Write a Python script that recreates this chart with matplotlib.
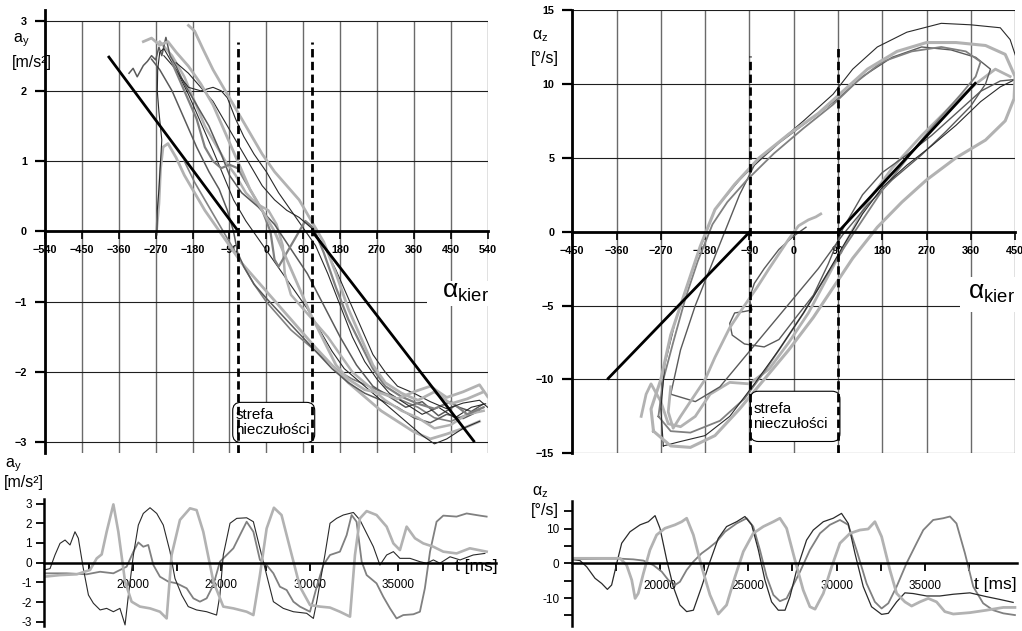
import numpy as np
import matplotlib
matplotlib.use("Agg")
import matplotlib.pyplot as plt
from matplotlib.patches import FancyBboxPatch, Rectangle

plt.rcParams["font.family"] = ["Liberation Sans", "DejaVu Sans"]

# ── top-left: lateral acceleration vs steering angle ───────────────────────
AY_X_TICKS = list(range(-540, 541, 90))
AY_Y_TICKS = [-3, -2, -1, 0, 1, 2, 3]
AY_DEADZONE = [-68, 112]
AY_REF_1 = [(-384, 2.48), (-68, 0.0)]
AY_REF_2 = [(112, 0.0), (506, -2.98)]

AY_C1 = [(-335, 2.25), (-325, 2.32), (-315, 2.2), (-300, 2.36), (-290, 2.42), (-280, 2.5),
         (-270, 2.44), (-262, 2.62), (-255, 2.5), (-245, 2.76), (-235, 2.5), (-220, 2.35),
         (-200, 2.1), (-170, 1.8), (-140, 1.5), (-110, 1.1), (-90, 0.8), (-60, 0.55),
         (-20, 0.35), (20, 0.1), (60, -0.25), (100, -0.6), (140, -1.05), (180, -1.5),
         (220, -1.9), (260, -2.2), (300, -2.35), (340, -2.5), (380, -2.42), (420, -2.62),
         (460, -2.48), (500, -2.56), (530, -2.45)]
AY_C2 = [(-267, -0.05), (-266, 0.3), (-262, 0.6), (-258, 1.0), (-255, 1.3), (-262, 1.7),
         (-266, 2.0), (-265, 2.3), (-260, 2.55), (-250, 2.6), (-230, 2.4), (-210, 2.2),
         (-190, 2.05), (-160, 2.0), (-130, 2.05), (-110, 2.0), (-95, 1.9), (-75, 1.6),
         (-55, 1.35), (-30, 1.1), (0, 0.85), (30, 0.55), (60, 0.3), (90, 0.05),
         (120, -0.2), (150, -0.6), (180, -1.05), (210, -1.5), (240, -1.85), (270, -2.1),
         (300, -2.3), (340, -2.45), (380, -2.6), (420, -2.5), (460, -2.65), (500, -2.5),
         (535, -2.45)]
AY_C3 = [(-268, 0.0), (-262, 0.4), (-258, 0.9), (-252, 1.2), (-240, 1.25), (-220, 1.05),
         (-200, 0.8), (-175, 0.55), (-150, 0.3), (-120, 0.05), (-90, -0.2), (-60, -0.45),
         (-30, -0.65), (0, -0.85), (30, -1.05), (60, -1.25), (90, -1.45), (120, -1.65),
         (160, -1.9), (200, -2.15), (240, -2.35), (280, -2.55), (320, -2.7), (360, -2.85),
         (400, -2.95), (440, -2.88), (480, -2.8), (520, -2.7)]
AY_C4 = [(-300, 2.7), (-280, 2.75), (-260, 2.65), (-240, 2.7), (-220, 2.55), (-190, 2.35),
         (-160, 2.1), (-130, 1.8), (-100, 1.4), (-70, 1.0), (-40, 0.6), (-10, 0.3),
         (20, 0.0), (50, -0.4), (80, -0.8), (110, -1.2), (140, -1.55), (170, -1.9),
         (200, -2.1), (240, -2.25), (280, -2.3), (320, -2.38), (360, -2.28), (400, -2.2),
         (440, -2.36), (480, -2.28), (520, -2.18), (540, -2.35)]
AY_C5 = [(-190, 2.93), (-175, 2.85), (-155, 2.6), (-130, 2.3), (-100, 2.0), (-70, 1.7),
         (-40, 1.4), (-10, 1.1), (20, 0.85), (50, 0.65), (80, 0.45), (110, 0.15),
         (140, -0.15), (170, -0.6), (200, -1.1), (230, -1.5), (260, -1.9), (290, -2.15),
         (330, -2.3), (370, -2.4), (410, -2.28), (450, -2.45), (490, -2.38), (530, -2.28)]
AY_C6 = [(-280, 2.45), (-260, 2.3), (-230, 2.0), (-200, 1.6), (-170, 1.2), (-140, 0.85),
         (-115, 0.6), (-95, 0.3), (-80, 0.0), (-70, -0.3), (-55, -0.5), (-30, -0.75),
         (0, -0.95), (40, -1.2), (80, -1.45), (120, -1.7), (160, -1.95), (200, -2.15),
         (240, -2.3), (280, -2.4), (320, -2.5), (360, -2.65), (400, -2.72), (440, -2.6),
         (480, -2.66), (520, -2.55)]
AY_C7 = [(-250, 2.5), (-220, 2.3), (-190, 1.95), (-160, 1.55), (-130, 1.15), (-105, 0.8),
         (-80, 0.45), (-50, 0.15), (-20, -0.1), (10, -0.35), (40, -0.6), (70, -0.85),
         (100, -1.1), (130, -1.4), (160, -1.7), (190, -1.95), (220, -2.1), (260, -2.3),
         (300, -2.5), (340, -2.7), (380, -2.9), (410, -3.02), (440, -2.95), (480, -2.8),
         (520, -2.7)]
AY_C8 = [(-230, 2.4), (-200, 2.0), (-170, 1.6), (-150, 1.2), (-130, 1.0), (-110, 0.9),
         (-90, 0.95), (-70, 0.9), (-50, 0.7), (-30, 0.5), (-10, 0.3), (10, 0.0),
         (20, -0.4), (30, -0.5), (50, -0.3), (70, -0.1), (95, 0.15), (115, 0.05),
         (140, -0.3), (170, -0.8), (200, -1.25), (230, -1.6), (260, -1.95), (290, -2.2),
         (330, -2.35), (370, -2.45), (410, -2.52), (450, -2.42), (490, -2.6), (530, -2.5)]
AY_C9 = [(-260, 2.7), (-230, 2.5), (-200, 2.2), (-175, 1.85), (-150, 1.5), (-125, 1.25),
         (-100, 1.0), (-75, 0.8), (-50, 0.55), (-25, 0.4), (5, 0.3), (25, 0.1),
         (40, -0.2), (45, -0.6), (60, -0.9), (90, -1.1), (120, -1.3), (150, -1.5),
         (180, -1.75), (210, -2.0), (250, -2.2), (290, -2.4), (330, -2.55), (370, -2.65),
         (410, -2.8), (450, -2.75), (490, -2.6), (530, -2.55)]
AY_C10 = [(-220, 2.4), (-190, 2.25), (-160, 2.05), (-130, 1.85), (-100, 1.55), (-70, 1.25),
          (-40, 0.95), (-10, 0.65), (20, 0.45), (50, 0.3), (80, 0.2), (110, 0.05),
          (140, -0.2), (170, -0.55), (200, -0.95), (230, -1.35), (260, -1.75), (290, -2.0),
          (320, -2.2), (360, -2.3), (400, -2.42), (440, -2.52), (480, -2.44), (520, -2.4),
          (540, -2.5)]
AY_C11 = [(-200, 1.0), (-175, 0.7), (-150, 0.45), (-125, 0.2), (-100, -0.05), (-80, -0.25),
          (-60, -0.45), (-30, -0.75), (0, -1.0), (30, -1.2), (60, -1.4), (90, -1.55),
          (120, -1.7), (150, -1.85), (180, -2.0), (210, -2.1), (250, -2.2), (290, -2.3),
          (330, -2.4), (370, -2.5), (410, -2.65), (450, -2.7), (490, -2.6), (530, -2.5)]

# ── top-right: yaw rate vs steering angle ──────────────────────────────────
AZ_X_TICKS = list(range(-450, 451, 90))
AZ_Y_TICKS = [-15, -10, -5, 0, 5, 10, 15]
AZ_DEADZONE = [-89, 91]
AZ_REF_1 = [(-377, -9.93), (-89, 0.0)]
AZ_REF_2 = [(91, 0.0), (369, 10.04)]

AZ_L1 = [(-265, -14.5), (-270, -12), (-262, -9), (-240, -6), (-200, -2), (-160, 1.5),
         (-110, 3.5), (-50, 5.5), (20, 7.5), (80, 9.3), (120, 11), (170, 12.5), (230, 13.5),
         (300, 14.1), (360, 14.0), (420, 13.8), (440, 13.0), (455, 11.5), (450, 10.3),
         (420, 9.8), (380, 8.8), (330, 7.2), (280, 5.8), (230, 4.5), (180, 3.0), (140, 1.2),
         (100, -1.0), (60, -3.3), (20, -5.5), (-30, -8.0), (-80, -10.3), (-130, -12.5),
         (-180, -13.8), (-230, -14.2), (-265, -14.5)]
AZ_L2 = [(-285, -13.5), (-290, -12), (-270, -10), (-250, -7), (-220, -4), (-190, -1),
         (-160, 1.5), (-120, 3.2), (-70, 5.0), (-10, 6.6), (50, 8.0), (100, 9.5), (150, 11),
         (210, 12.2), (270, 12.8), (330, 12.8), (390, 12.6), (430, 12.0), (450, 10.5),
         (448, 9.0), (430, 7.5), (390, 6.2), (330, 5.0), (270, 3.5), (220, 2.0), (170, 0.3),
         (120, -1.8), (80, -3.8), (40, -5.8), (-10, -8.0), (-60, -10.0), (-110, -12.0),
         (-160, -13.8), (-210, -14.6), (-250, -14.5), (-285, -13.5)]
AZ_L3 = [(-275, -12.5), (-265, -10), (-245, -7.5), (-220, -4.5), (-195, -2), (-165, 0.5),
         (-135, 2), (-95, 3.5), (-40, 5.3), (20, 7.0), (80, 8.6), (130, 10.2), (180, 11.5),
         (240, 12.2), (300, 12.5), (350, 12.2), (380, 11.5), (370, 10.5), (340, 9.3),
         (300, 7.8), (260, 6.2), (220, 4.5), (180, 2.8), (140, 0.8), (100, -1.2), (60, -3.3),
         (20, -5.5), (-20, -7.5), (-60, -9.5), (-100, -11.3), (-150, -12.8), (-210, -13.6),
         (-250, -13.5), (-275, -12.5)]
AZ_L4 = [(-310, -12.5), (-300, -11), (-290, -10.3), (-270, -11.5), (-255, -13.0),
         (-230, -13.2), (-200, -12.5), (-170, -11.0), (-130, -10.2), (-90, -10.3),
         (-50, -9.3), (-10, -7.5), (30, -5.5), (70, -3.0), (110, -0.5), (150, 2.0),
         (200, 4.3), (260, 6.5), (320, 8.5), (370, 10.0), (410, 11.0), (440, 10.5)]
AZ_L5 = [(25, 0.3), (0, -0.3), (-30, -1.2), (-60, -2.5), (-80, -3.5), (-90, -4.5),
         (-85, -5.3), (-100, -5.4), (-120, -5.5), (-130, -6.2), (-125, -7.0), (-100, -7.6),
         (-60, -7.8), (-30, -7.3), (0, -6.0), (40, -4.3), (70, -2.2), (100, 0.2), (140, 2.5),
         (180, 4.0), (230, 5.2), (280, 6.5), (330, 8.0), (380, 9.5), (420, 10.2), (450, 10.3)]
AZ_L6 = [(55, 1.2), (45, 1.0), (30, 0.8), (10, 0.4), (-10, -0.5), (-30, -1.5), (-50, -2.5),
         (-75, -3.8), (-100, -5.0), (-130, -6.5), (-160, -8.5), (-180, -10.0), (-200, -11.0),
         (-230, -12.5), (-245, -13.3), (-255, -12.2), (-250, -10.5)]
AZ_L7 = [(-250, -11), (-230, -8), (-200, -5), (-170, -2.5), (-140, 0), (-110, 2.5),
         (-80, 4.5), (-30, 6.0), (30, 7.5), (90, 9.0), (140, 10.5), (200, 11.8), (260, 12.5),
         (320, 12.3), (370, 11.8), (400, 11.0), (390, 10.0), (360, 8.5), (310, 6.8),
         (260, 5.2), (200, 3.5), (150, 1.8), (100, -0.2), (50, -2.5), (0, -4.5), (-50, -6.5),
         (-100, -8.5), (-150, -10.5), (-200, -11.5), (-250, -11)]

# ── bottom-left: a_y time histories ────────────────────────────────────────
AY_DARK_T = [15000, 15320, 15600, 15885, 16170, 16450, 16730, 16920, 17200, 17490, 17770,
             18150, 18520, 18900, 19270, 19560, 19750, 20030, 20310, 20590, 20970, 21350,
             21720, 22100, 22380, 22760, 23130, 23600, 24170, 24730, 24920, 25110, 25490,
             25870, 26430, 26810, 27180, 27560, 27940, 28500, 29070, 29820, 30200, 30390,
             30850, 31140, 31510, 31890, 32460, 32830, 33210, 33590, 33960, 34340, 34720,
             35090, 35660, 36220, 36600, 36980, 37350, 37920, 38490, 39230, 39890]
AY_DARK_V = [-0.37, -0.3, 0.39, 0.98, 1.15, 0.9, 1.57, 1.24, -0.29, -1.64, -2.06, -2.4, -2.32,
             -2.49, -2.32, -3.16, -1.64, 0.39, 1.91, 2.5, 2.79, 2.5, 1.91, 0.56, -0.8, -1.64,
             -2.23, -2.4, -2.49, -2.66, -1.64, 0.39, 2.0, 2.25, 2.28, 2.08, 0.73, -0.63, -1.98,
             -2.32, -2.49, -2.57, -2.83, -1.98, 0.39, 2.0, 2.25, 2.42, 2.55, 2.17, 1.49, 0.81,
             -0.12, 0.39, 0.56, 0.22, 0.22, 0.05, -0.03, 0.14, -0.03, 0.3, 0.14, 0.39, 0.47]
AY_MID_T = [15000, 16260, 17390, 18150, 18900, 19650, 20030, 20310, 20590, 20870, 21160,
            21530, 22000, 22480, 23040, 23420, 23790, 24170, 24550, 24920, 25300, 25680,
            26050, 26430, 26810, 27180, 27560, 27940, 28310, 28690, 29070, 29440, 30010,
            30390, 30760, 31140, 31700, 32080, 32360, 32640, 32930, 33210, 33770, 34150,
            34530, 34900, 35280, 35850, 36220, 36500, 36790, 37160, 37540, 38290, 38860,
            39610, 39990]
AY_MID_V = [-0.54, -0.54, -0.59, -0.46, -0.54, -0.2, 0.56, 1.03, 0.81, 0.9, -0.12, -0.71,
            -0.96, -1.05, -1.3, -1.81, -1.98, -1.81, -1.13, 0.05, 0.39, 0.73, 1.4, 2.08, 1.57,
            0.14, -0.12, -0.54, -1.22, -1.39, -1.98, -2.23, -2.49, -1.22, -0.12, 0.39, 0.56,
            1.4, 2.42, 2.08, 0.05, -0.63, -1.05, -1.73, -2.32, -2.83, -2.66, -2.62, -2.49,
            -1.3, 0.56, 2.08, 2.39, 2.34, 2.5, 2.39, 2.34]
AY_LIGHT_T = [15000, 15885, 16830, 17580, 17960, 18240, 18520, 18900, 19180, 19560, 19930,
              20400, 20970, 21530, 21910, 22190, 22660, 23230, 23600, 23980, 24550, 25110,
              25680, 26430, 26810, 27180, 27560, 27970, 28400, 28880, 29440, 30010, 30570,
              31140, 31700, 32270, 32550, 32830, 33210, 33770, 34340, 34720, 35090, 35470,
              35940, 36410, 36980, 37540, 38290, 39040, 39990]
AY_LIGHT_V = [-0.71, -0.63, -0.59, -0.37, 0.22, 0.42, 1.57, 2.96, 1.57, -0.96, -1.98, -2.23,
              -2.32, -2.49, -2.83, 0.39, 2.17, 2.76, 2.67, 1.57, -0.96, -2.23, -2.32, -2.49,
              -2.66, -0.63, 1.74, 2.79, 2.42, 0.73, -1.22, -2.15, -2.23, -2.28, -2.49, -2.74,
              0.39, 2.25, 2.62, 2.42, 1.83, 0.98, 0.64, 1.83, 1.24, 0.98, 0.81, 0.56, 0.47,
              0.73, 0.56]

# ── bottom-right: yaw rate time histories ──────────────────────────────────
AZ_DARK_T = [15000, 15470, 15850, 16320, 16700, 17020, 17260, 17550, 17830, 18300, 18870,
             19340, 19720, 20000, 20380, 20750, 21130, 21510, 21890, 22360, 22830, 23300,
             23770, 24340, 24810, 25190, 25570, 25940, 26320, 26700, 27080, 27360, 27740,
             28300, 28680, 29250, 29810, 30280, 30660, 31040, 31510, 31980, 32550, 32930,
             33400, 33870, 34340, 35100, 35850, 36610, 37550, 38490, 39250, 40000]
AZ_DARK_V = [1.15, 0.8, -1.0, -4.3, -5.8, -7.5, -6.25, 0.0, 5.8, 9.1, 11.1, 12.0, 13.75, 10.1,
             1.0, -6.7, -12.0, -13.9, -13.5, -6.7, 0.5, 7.2, 10.6, 12.0, 13.5, 11.1, 3.85,
             -4.8, -11.1, -13.5, -13.5, -9.6, -1.9, 6.7, 9.6, 12.0, 13.0, 14.4, 11.5, 2.9,
             -6.7, -12.5, -14.7, -14.4, -11.1, -8.5, -8.7, -9.4, -9.4, -8.9, -8.5, -9.6,
             -10.4, -11.25]
AZ_MID_T = [15000, 16790, 17740, 18490, 19060, 19620, 20100, 20470, 20850, 21130, 21510,
            21890, 22360, 22740, 23210, 23680, 24340, 24910, 25280, 25660, 26040, 26420,
            26790, 27170, 27550, 27930, 28490, 29060, 29620, 30190, 30660, 31130, 31700,
            32170, 32550, 32930, 33400, 33960, 34530, 34910, 35470, 36040, 36420, 36790,
            37270, 37740, 38300, 38870, 39440, 40100]
AZ_MID_V = [1.15, 1.35, 1.35, 1.15, 0.8, -0.5, -2.4, -4.8, -6.25, -5.3, -1.9, 0.5, 2.9, 4.3,
            6.25, 9.1, 11.5, 13.0, 10.6, 3.85, -3.85, -9.1, -10.9, -10.1, -6.25, -2.4, 3.85,
            8.65, 11.1, 12.5, 11.1, 3.85, -5.8, -11.1, -13.0, -11.5, -6.7, 0.0, 5.8, 9.6,
            12.5, 13.0, 13.5, 11.5, 2.9, -6.7, -11.5, -13.5, -14.4, -14.9]
AZ_LIGHT_T = [15000, 16790, 17740, 18110, 18400, 18590, 18770, 19060, 19430, 19810, 20280,
              20850, 21230, 21510, 21890, 22360, 22830, 23300, 23770, 24250, 24720, 25280,
              25850, 26420, 26790, 27170, 27640, 28110, 28490, 28780, 29250, 29720, 30190,
              30760, 31320, 31790, 32170, 32550, 33020, 33400, 33870, 34250, 34720, 35190,
              35660, 36130, 36610, 37550, 38490, 39440, 40100]
AZ_LIGHT_V = [1.45, 1.45, 1.45, -0.5, -4.8, -10.1, -8.65, -2.9, 3.85, 8.2, 10.1, 11.1, 12.0,
              13.0, 8.2, -1.0, -9.1, -14.6, -12.0, -3.85, 3.4, 8.65, 10.6, 12.0, 13.0, 10.1,
              1.0, -7.7, -12.5, -13.2, -8.65, -1.0, 5.8, 8.65, 9.6, 9.9, 12.0, 7.7, -1.9, -8.65,
              -11.1, -12.3, -11.1, -10.1, -11.1, -13.9, -14.6, -14.2, -13.5, -12.7, -12.7]

T_MAJOR = [20000, 25000, 30000, 35000]
T_MINOR = [17500, 22500, 27500, 32500, 37500]

DARK = "#2a2a2a"
DGRAY = "#5a5a5a"
MGRAY = "#808080"
LGRAY = "#b2b2b2"


def xy(points):
    a = np.array(points, dtype=float)
    return a[:, 0], a[:, 1]


def loop_panel(ax, xt, yt, ylo, curves, refs, dz, dz_top, box_xy, box_wh, box_text,
               round_x, aspect):
    ax.vlines(xt, ylo, yt[-1], color="#6a6a6a", lw=1.0, zorder=0.5)
    ax.hlines(yt, xt[0], xt[-1], color="#1e1e1e", lw=0.8, zorder=0.5)
    for pts, col, lw in curves:
        x, y = xy(pts)
        ax.plot(x, y, color=col, lw=lw, zorder=2, solid_joinstyle="round")
    for r in refs:
        x, y = xy(r)
        ax.plot(x, y, color="black", lw=2.0, zorder=3)
    for (d, top) in zip(dz, dz_top):
        ax.plot([d, d], [ylo, top], color="black", lw=2.0, ls=(0, (3, 1.6)), zorder=4)
    box = FancyBboxPatch(box_xy, box_wh[0], box_wh[1],
                         boxstyle="round,pad=0,rounding_size=%g" % round_x,
                         mutation_aspect=aspect, fc="white", ec="black",
                         lw=0.8, zorder=3.5)
    ax.add_patch(box)
    t = ax.text(box_xy[0] + box_wh[0] * 0.03, box_xy[1] + box_wh[1] * 0.5, box_text,
                ha="left", va="center", fontsize=11, linespacing=1.1, zorder=3.6)
    t.set_clip_path(box)

    for side in ("top", "right"):
        ax.spines[side].set_visible(False)
    ax.spines["bottom"].set_position(("data", 0))
    ax.spines["bottom"].set_linewidth(2.0)
    ax.spines["left"].set_linewidth(2.0)
    ax.set_xticks(xt)
    ax.set_yticks(yt)
    ax.tick_params(axis="x", direction="out", length=6, width=1.2, pad=4, labelsize=7.8)
    ax.tick_params(axis="y", direction="out", length=7, width=1.6, pad=6, labelsize=7.8)
    for lab in ax.get_xticklabels() + ax.get_yticklabels():
        lab.set_fontweight("bold")
    ax.set_facecolor("none")


fig = plt.figure(figsize=(10.22, 6.31), dpi=100)

# top-left
ax1 = fig.add_axes([0.0440, 0.2821, 0.4332, 0.7021])
ax1.set_xlim(-540, 540)
ax1.set_ylim(-3.15, 3.15)
ay_curves = [
    (AY_C11, MGRAY, 1.2), (AY_C3, LGRAY, 2.0), (AY_C6, DGRAY, 1.1), (AY_C7, DARK, 0.8),
    (AY_C9, LGRAY, 1.8), (AY_C1, DGRAY, 1.1), (AY_C2, DARK, 0.8), (AY_C8, MGRAY, 1.6),
    (AY_C10, DARK, 0.8), (AY_C4, LGRAY, 2.0), (AY_C5, LGRAY, 2.0),
]
loop_panel(ax1, AY_X_TICKS, AY_Y_TICKS, -3.15, ay_curves, [AY_REF_1, AY_REF_2],
           AY_DEADZONE, [2.7, 2.7], (-82, -3.0), (200, 0.57), "strefa\nnieczułości",
           20, 0.0058)
ax1.add_patch(Rectangle((393, -1.06), 160, 0.36, fc="white", ec="none", zorder=3.7, clip_on=False))
ax1.text(428, -0.86, "α$_\\mathregular{kier}$", fontsize=19, ha="left", va="center", zorder=3.8)
fig.text(13 / 1022, 1 - 40 / 631, "a$_\\mathregular{y}$", fontsize=11.5, ha="left", va="center")
fig.text(12 / 1022, 1 - 63 / 631, "[m/s²]", fontsize=11.5, ha="left", va="center")

# top-right
ax2 = fig.add_axes([0.5600, 0.2816, 0.4332, 0.7025])
ax2.set_xlim(-450, 450)
ax2.set_ylim(-15, 15)
az_curves = [
    (AZ_L4, LGRAY, 2.0), (AZ_L7, DGRAY, 1.0), (AZ_L3, MGRAY, 1.3), (AZ_L5, DGRAY, 1.0),
    (AZ_L6, LGRAY, 2.0), (AZ_L1, DARK, 0.8), (AZ_L2, LGRAY, 2.2),
]
loop_panel(ax2, AZ_X_TICKS, AZ_Y_TICKS, -15, az_curves, [AZ_REF_1, AZ_REF_2],
           AZ_DEADZONE, [11.9, 12.4], (-88, -14.2), (182, 3.4), "strefa\nnieczułości",
           16, 0.0333)
ax2.add_patch(Rectangle((338, -5.43), 140, 2.36, fc="white", ec="none", zorder=3.7, clip_on=False))
ax2.text(354, -4.15, "α$_\\mathregular{kier}$", fontsize=19, ha="left", va="center", zorder=3.8)
fig.text(532 / 1022, 1 - 36 / 631, "α$_\\mathregular{z}$", fontsize=11.5, ha="left", va="center")
fig.text(531 / 1022, 1 - 58 / 631, "[°/s]", fontsize=11.5, ha="left", va="center")


def time_panel(ax, series, yticks, ylabels, yminor, xmax, tlab_y):
    for t, v, col, lw in series:
        ax.plot(t, v, color=col, lw=lw, zorder=2)
    for side in ("top", "right"):
        ax.spines[side].set_visible(False)
    ax.spines["bottom"].set_position(("data", 0))
    ax.spines["bottom"].set_linewidth(1.8)
    ax.spines["left"].set_linewidth(1.8)
    ax.set_xticks(T_MAJOR)
    ax.set_xticks(T_MINOR, minor=True)
    ax.set_yticks(yticks)
    ax.set_yticklabels(ylabels)
    if yminor:
        ax.set_yticks(yminor, minor=True)
    ax.tick_params(axis="x", which="both", direction="out", length=6, width=1.3, pad=6,
                   labelsize=8.5)
    ax.tick_params(axis="y", which="both", direction="out", length=6, width=1.3, pad=3,
                   labelsize=8.5)
    for lab in ax.get_xticklabels():
        lab.set_zorder(1)
    ax.text(xmax, tlab_y, "t [ms]", fontsize=12.5, ha="right", va="center")
    ax.set_facecolor("none")


ax3 = fig.add_axes([0.0434, 0.0084, 0.4416, 0.2013])
ax3.set_xlim(15000, 40500)
ax3.set_ylim(-3.2, 3.25)
time_panel(ax3, [(AY_MID_T, AY_MID_V, MGRAY, 1.3), (AY_DARK_T, AY_DARK_V, DARK, 0.8),
                 (AY_LIGHT_T, AY_LIGHT_V, LGRAY, 1.9)],
           AY_Y_TICKS, [str(v) for v in AY_Y_TICKS], None, 40600, -0.2)
fig.text(5 / 1022, 1 - 465 / 631, "a$_\\mathregular{y}$", fontsize=11.5, ha="left", va="center")
fig.text(4 / 1022, 1 - 482 / 631, "[m/s²]", fontsize=11.5, ha="left", va="center")

ax4 = fig.add_axes([0.5594, 0.0082, 0.4354, 0.198])
ax4.set_xlim(15000, 40200)
ax4.set_ylim(-18, 18)
time_panel(ax4, [(AZ_MID_T, AZ_MID_V, MGRAY, 1.3), (AZ_DARK_T, AZ_DARK_V, DARK, 0.9),
                 (AZ_LIGHT_T, AZ_LIGHT_V, LGRAY, 2.0)],
           [-10, 0, 10], ["-10", "0", "10"], [-15, -5, 5, 15], 40200, -6.0)
fig.text(532 / 1022, 1 - 492 / 631, "α$_\\mathregular{z}$", fontsize=11.5, ha="left", va="center")
fig.text(531 / 1022, 1 - 510 / 631, "[°/s]", fontsize=11.5, ha="left", va="center")

fig.savefig("out.png", dpi=100)
plt.close(fig)
